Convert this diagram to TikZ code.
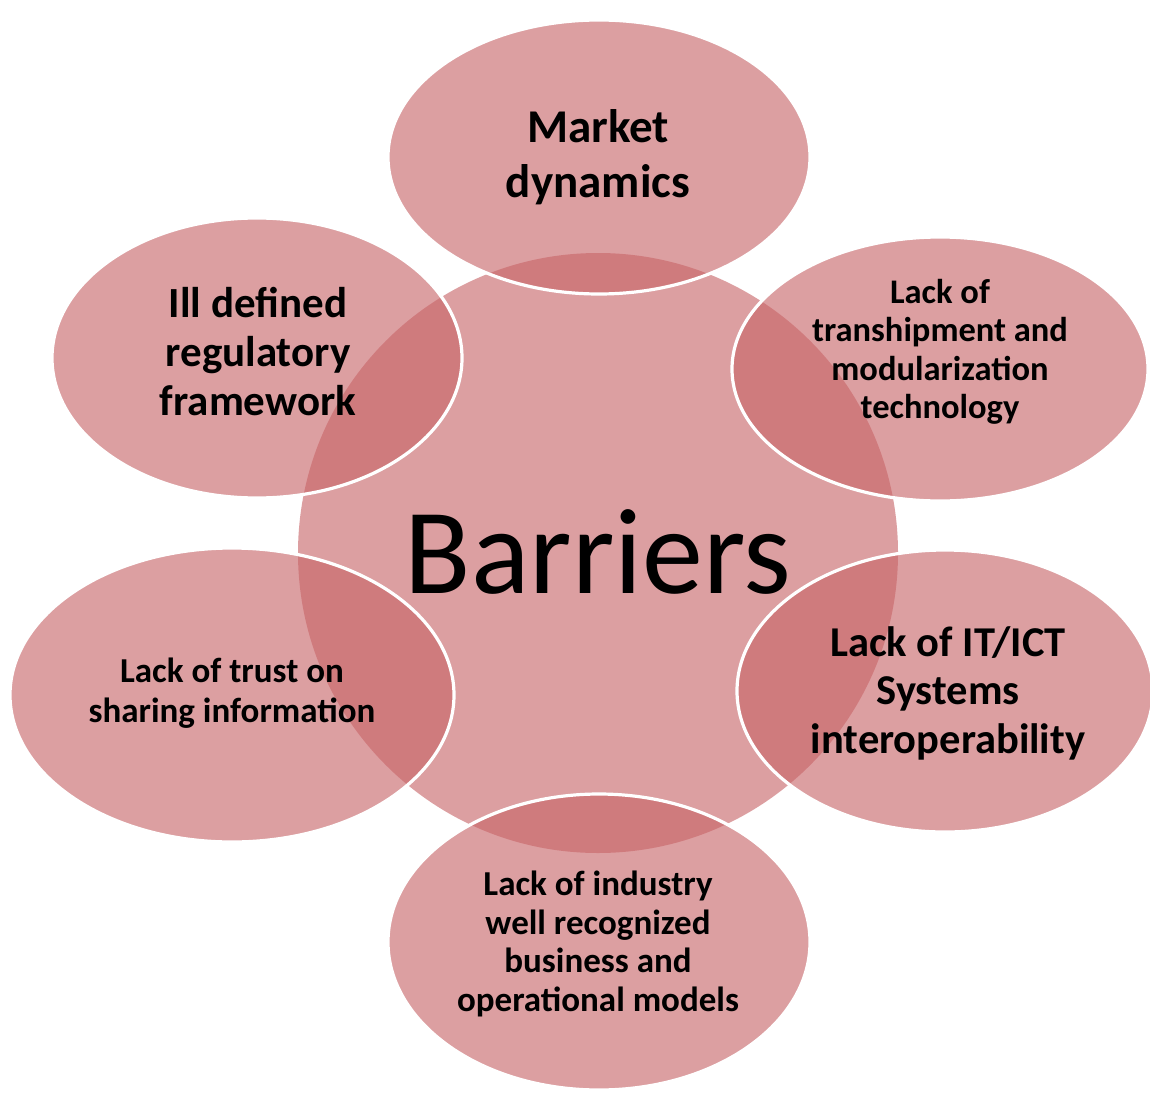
\documentclass[tikz,border=0pt]{standalone}
\usepackage{fontspec}
\setmainfont{Carlito}
\usetikzlibrary{shapes.geometric}
\definecolor{blobfill}{RGB}{200,101,104}
\tikzset{
  blob/.style={ellipse, inner sep=0pt, fill=blobfill, fill opacity=0.62, draw=white, line width=3.2pt},
  hub/.style={circle, inner sep=0pt, fill=blobfill, fill opacity=0.62, draw=none},
  lbl/.style={align=center, text=black, font=\bfseries\fontsize{35}{38.5}\selectfont, inner sep=0pt},
}
\begin{document}
\begin{tikzpicture}[x=1pt,y=-1pt]
\useasboundingbox (0,0) rectangle (1150,1094);
\fill[white] (0,0) rectangle (1150,1094);
% central circle
\node[hub, minimum size=600pt] (hubc) at (598,553) {};
% outer ellipses
\node[blob, minimum width=422pt, minimum height=274pt] (market) at (599,157) {};
\node[blob, minimum width=410pt, minimum height=280pt] (ill) at (257,358) {};
\node[blob, minimum width=416pt, minimum height=264pt] (trans) at (940,369) {};
\node[blob, minimum width=416pt, minimum height=282pt] (ict) at (945,691) {};
\node[blob, minimum width=444pt, minimum height=294pt] (trust) at (232,695) {};
\node[blob, minimum width=422pt, minimum height=296pt] (ind) at (599,942) {};
% labels
\node[inner sep=0pt, font=\fontsize{122}{124}\selectfont] (tbar) at (598,552) {Barriers};
\node[lbl, font=\bfseries\fontsize{47}{55}\selectfont] (tmarket) at (598,157) {Market\\dynamics};
\node[lbl, font=\bfseries\fontsize{43}{49}\selectfont] (till) at (258,352) {Ill defined\\regulatory\\framework};
\node[lbl, font=\bfseries\fontsize{34.5}{38.5}\selectfont] (ttrans) at (940,352) {Lack of\\transhipment and\\modularization\\technology};
\node[lbl, font=\bfseries\fontsize{42.5}{48.5}\selectfont] (tict) at (948,693) {Lack of IT/ICT\\Systems\\interoperability};
\node[lbl, font=\bfseries\fontsize{35}{40}\selectfont] (ttrust) at (232,693) {Lack of trust on\\sharing information};
\node[lbl, font=\bfseries\fontsize{35}{38.5}\selectfont] (tind) at (598,944) {Lack of industry\\well recognized\\business and\\operational models};
\end{tikzpicture}
\end{document}
